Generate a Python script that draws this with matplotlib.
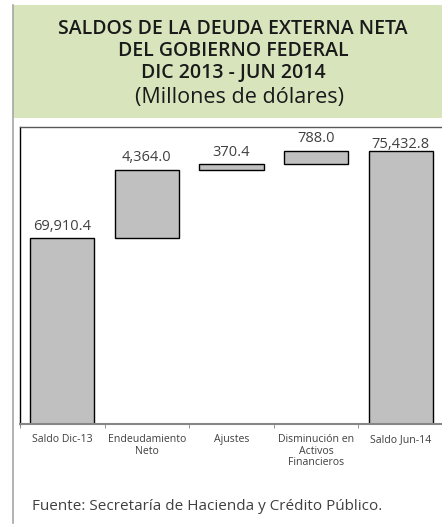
import matplotlib
matplotlib.use("Agg")
import matplotlib.pyplot as plt
from matplotlib.patches import Rectangle
from matplotlib.lines import Line2D
import numpy as np

plt.rcParams['font.family'] = ['Open Sans', 'DejaVu Sans']

# datos del grafico (millones de dolares)
categorias = ['Saldo Dic-13', 'Endeudamiento\nNeto', 'Ajustes',
              'Disminución en\nActivos\nFinancieros', 'Saldo Jun-14']
valores = [69910.4, 4364.0, 370.4, 788.0, 75432.8]
es_total = [True, False, False, False, True]

titulo = ['SALDOS DE LA DEUDA EXTERNA NETA', 'DEL GOBIERNO FEDERAL',
          'DIC 2013 - JUN 2014']
subtitulo = '(Millones de dólares)'
fuente = 'Fuente: Secretaría de Hacienda y Crédito Público.'

y_min, y_max = 58000, 77000

W, H = 442, 525
fig = plt.figure(figsize=(W / 100, H / 100), dpi=100)

# marco exterior y encabezado verde
fig.add_artist(Line2D([13 / W, 13 / W], [1 - 5 / H, 1 - 523 / H],
                      color='#a6a6a6', lw=1.2))
fig.add_artist(Rectangle((13 / W, 1 - 118 / H), 1 - 13 / W, 113 / H,
                         facecolor='#d8e4bc', edgecolor='none'))

lineas_y = [29, 51.5, 73.5]
for txt, yy in zip(titulo, lineas_y):
    fig.text(233 / W, 1 - yy / H, txt, ha='center', va='center',
             fontsize=14, fontweight='semibold', color='#1a1a1a')
fig.text(240 / W, 1 - 97 / H, subtitulo, ha='center', va='center',
         fontsize=15.5, color='#1a1a1a')

ax = fig.add_axes([20 / W, (H - 424) / H, 423 / W, 297 / H])

# barras tipo cascada
bases = []
acum = 0.0
for v, tot in zip(valores, es_total):
    if tot:
        bases.append(0.0)
        acum = v
    else:
        bases.append(acum)
        acum += v
tops = np.array(bases) + np.array(valores)
x = np.arange(len(categorias))

ax.bar(x, valores, bottom=bases, width=0.76, color='#c0c0c0',
       edgecolor='black', linewidth=1.0)

desplaz = [7.8, 8.6, 8.5, 9.0, 5.0]
for xi, t, v, d in zip(x, tops, valores, desplaz):
    ax.annotate(f'{v:,.1f}', (xi, t), xytext=(0, d), textcoords='offset points',
                ha='center', va='center', fontsize=10.5, color='#404040')

ax.set_xlim(-0.5, len(categorias) - 0.5)
ax.set_ylim(y_min, y_max)

ax.set_xticks(x)
ax.set_xticklabels(categorias, fontsize=7.6, color='#404040', linespacing=1.1)
ax.tick_params(axis='x', which='major', length=0, pad=7)
ax.set_xticks(np.arange(-0.5, len(categorias)), minor=True)
ax.tick_params(axis='x', which='minor', length=3, color='#868686', direction='out')
ax.set_yticks([])

ax.spines['right'].set_visible(False)
ax.spines['left'].set_color('black')
ax.spines['left'].set_linewidth(1.0)
ax.spines['top'].set_color('#595959')
ax.spines['top'].set_linewidth(1.0)
ax.spines['bottom'].set_color('#868686')
ax.spines['bottom'].set_linewidth(1.5)

fig.text(32 / W, 1 - 507 / H, fuente, ha='left', va='center',
         fontsize=11, color='#404040')

fig.savefig('out.png', dpi=100)
